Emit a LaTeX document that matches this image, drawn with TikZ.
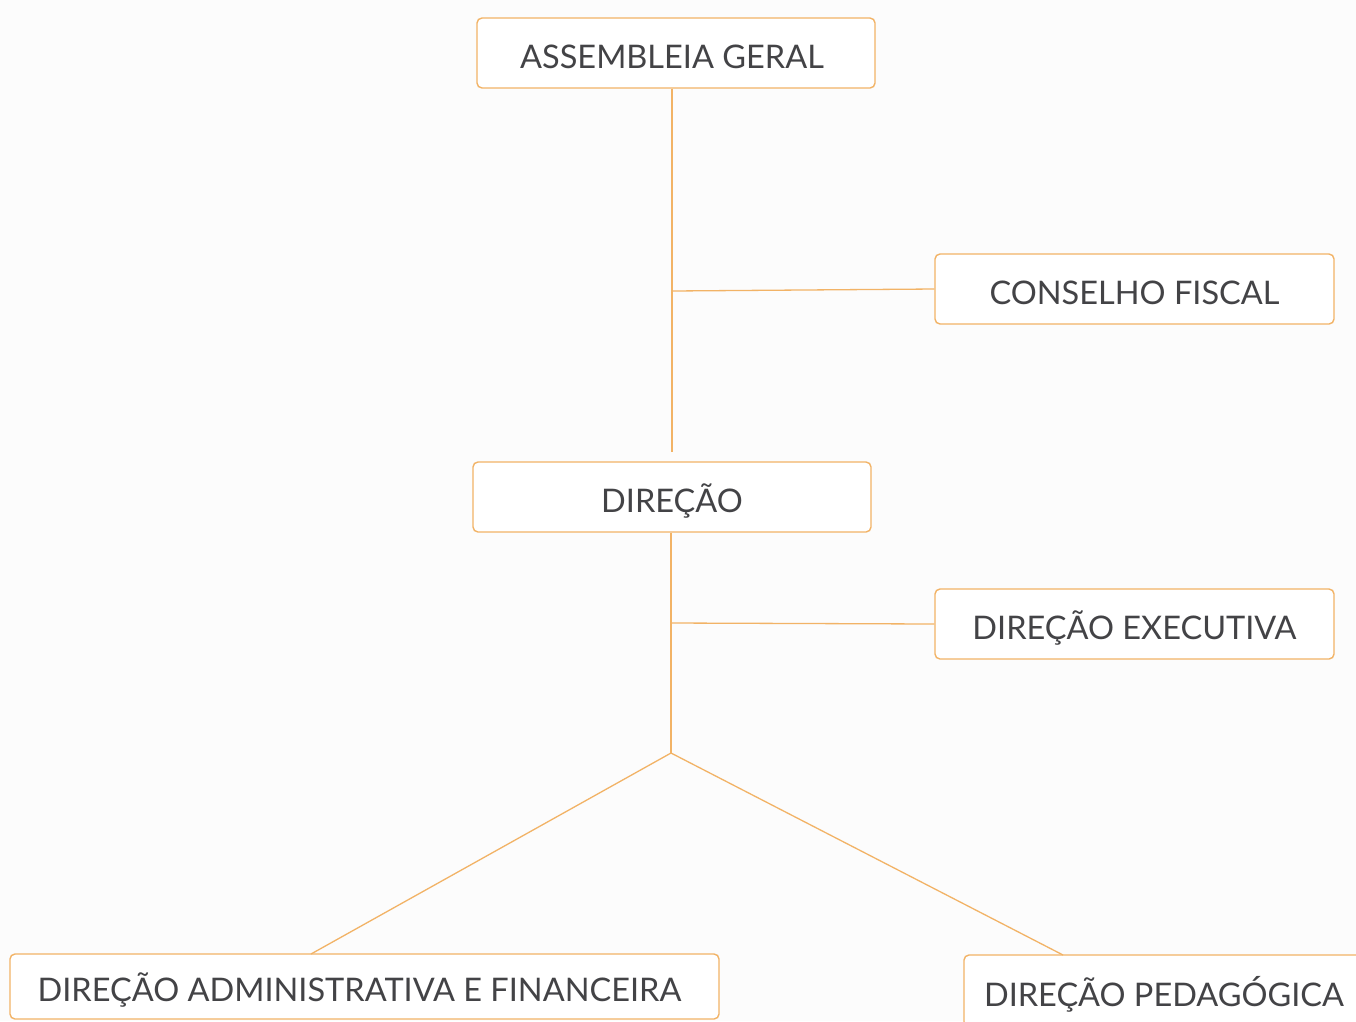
\documentclass[tikz,border=0pt]{standalone}
\usepackage{fontspec}
\setmainfont{Lato}
\definecolor{boxorange}{HTML}{F2B366}
\definecolor{txtgray}{HTML}{434346}
\tikzset{
  orgbox/.style={draw=boxorange, line width=1.4pt, rounded corners=5pt, fill=white,
    minimum height=70pt, inner sep=0pt, text=txtgray, text height=30pt, text depth=0pt,
    font=\fontsize{32.5}{38}\selectfont},
  link/.style={draw=boxorange, line width=1.3pt}
}
\begin{document}
\begin{tikzpicture}[x=1pt,y=-1pt]
\useasboundingbox (0,0) rectangle (1356,1021);
\fill[white!98!gray] (0,0) rectangle (1356,1021);
\clip (0,0) rectangle (1356,1021);
\node[orgbox, minimum width=398pt] (ag) at (676,53) {ASSEMBLEIA GERAL\hspace*{8pt}};
\node[orgbox, minimum width=399pt] (cf) at (1134.5,289) {CONSELHO FISCAL};
\node[orgbox, minimum width=398pt] (dir) at (672,497) {DIREÇÃO};
\node[orgbox, minimum width=399pt] (de) at (1134.5,624) {DIREÇÃO EXECUTIVA};
\node[orgbox, minimum width=709pt, minimum height=65pt] (daf) at (364.5,986.5) {DIREÇÃO ADMINISTRATIVA E FINANCEIRA\hspace*{10pt}};
\node[orgbox, minimum width=400pt, minimum height=72pt] (dp) at (1164,991) {DIREÇÃO PEDAGÓGICA};
\coordinate (agend) at (672,452);
\coordinate (cfjoin) at (672,291);
\coordinate (dejoin) at (671,623);
\coordinate (apex) at (671,753);
\coordinate (dafin) at (311,954);
\coordinate (dpin) at (1063,955);
\draw[link] (ag.south -| agend) -- (agend);
\draw[link] (cfjoin) -- (cf.west);
\draw[link] (dir.south -| apex) -- (apex);
\draw[link] (dejoin) -- (de.west);
\draw[link] (apex) -- (dafin);
\draw[link] (apex) -- (dpin);
\end{tikzpicture}
\end{document}
